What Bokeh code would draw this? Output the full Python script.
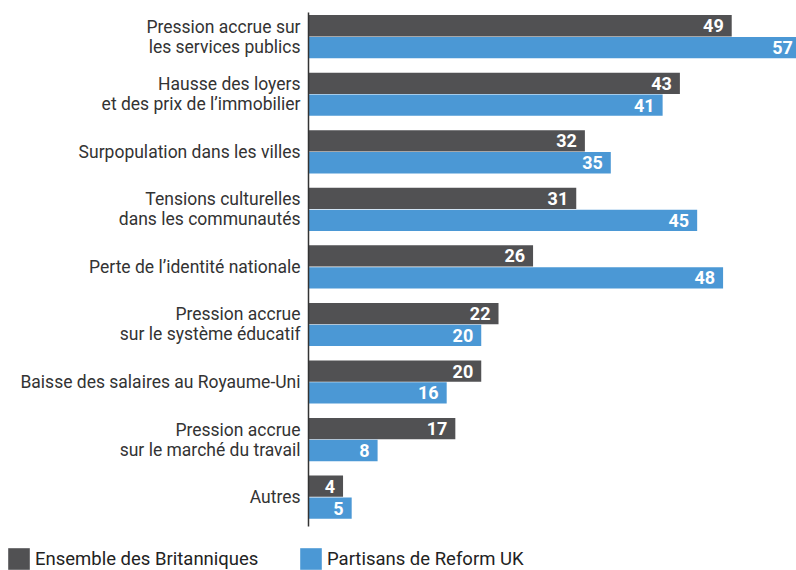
from bokeh.plotting import figure
from bokeh.models import ColumnDataSource, Range1d, Legend, LegendItem
from bokeh.core.properties import value
from bokeh.embed import file_html
from bokeh.resources import INLINE

categories = [
    "Pression accrue sur\nles services publics",
    "Hausse des loyers\net des prix de l\u2019immobilier",
    "Surpopulation dans les villes",
    "Tensions culturelles\ndans les communaut\u00e9s",
    "Perte de l\u2019identit\u00e9 nationale",
    "Pression accrue\nsur le syst\u00e8me \u00e9ducatif",
    "Baisse des salaires au Royaume-Uni",
    "Pression accrue\nsur le march\u00e9 du travail",
    "Autres",
]
ensemble = [49, 43, 32, 31, 26, 22, 20, 17, 4]
reform = [57, 41, 35, 45, 48, 20, 16, 8, 5]
series_names = ["Ensemble des Britanniques", "Partisans de Reform UK"]

DARK = "#515153"
BLUE = "#4b98d5"
FONT = "Roboto"

W, H = 796, 570
axis_px = 308          # page x of the value axis
x_max = 56.5
px_per_unit = (W - axis_px) / x_max
y_top, y_bot = -0.42, 8.51   # category axis extent
py_per_unit = (526 - 12) / (y_bot - y_top)

idx = list(range(len(categories)))
off = 0.19
src_e = ColumnDataSource(dict(y=[i - off for i in idx], v=ensemble, t=[str(v) for v in ensemble]))
src_r = ColumnDataSource(dict(y=[i + off for i in idx], v=reform, t=[str(v) for v in reform]))
src_c = ColumnDataSource(dict(y=idx, x=[0] * len(idx), t=categories))

p = figure(width=W, height=H, output_backend="svg", toolbar_location=None,
           x_range=Range1d(-axis_px / px_per_unit, x_max),
           y_range=Range1d(y_bot + (H - 526) / py_per_unit, y_top - 12 / py_per_unit),
           min_border=0)
p.outline_line_color = None
p.grid.visible = False
p.axis.visible = False

r1 = p.hbar(y="y", right="v", left=0, height=0.37, source=src_e, fill_color=DARK, line_color=None)
r2 = p.hbar(y="y", right="v", left=0, height=0.37, source=src_r, fill_color=BLUE, line_color=None)

# category axis line
p.segment(x0=[0], y0=[y_top], x1=[0], y1=[y_bot], line_color="#333333", line_width=1.5)

for src in (src_e, src_r):
    p.text(x="v", y="y", text="t", source=src, x_offset=-8, text_align="right",
           text_baseline="middle", text_color="white", text_font=value(FONT),
           text_font_style="bold", text_font_size="18px")

p.text(x="x", y="y", text="t", source=src_c, x_offset=-8, text_align="right",
       text_baseline="middle", text_color="#333333", text_font=value(FONT),
       text_font_size="17.5px", text_line_height=1.0)

for name, r, loc in ((series_names[0], r1, (5, -2)), (series_names[1], r2, (297, -2))):
    lg = Legend(items=[LegendItem(label=name, renderers=[r])], location=loc,
                padding=0, margin=0, border_line_color=None, background_fill_alpha=0,
                glyph_width=27, glyph_height=27, label_standoff=3, label_height=27,
                label_text_font=FONT, label_text_font_size="18.5px", label_text_color="#222222")
    p.add_layout(lg, "center")

open("out.html", "w").write(file_html(p, INLINE))
